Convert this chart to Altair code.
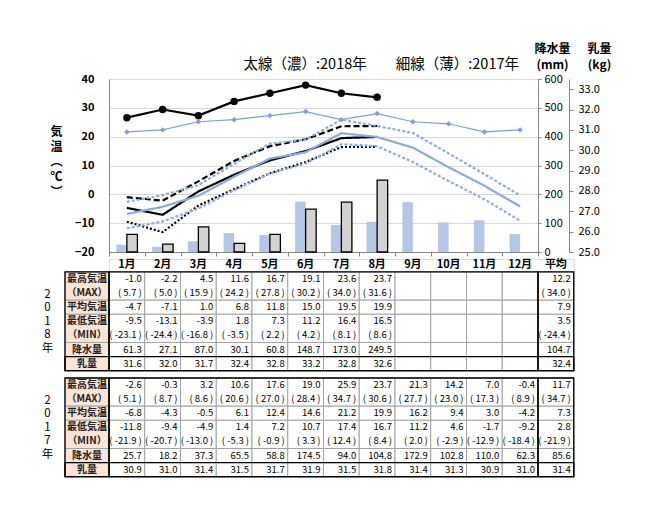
import altair as alt
import pandas as pd

FONT = "Noto Sans CJK JP"

# ---------------- data ----------------
MONTHS = ["1月", "2月", "3月", "4月", "5月", "6月", "7月", "8月", "9月", "10月", "11月", "12月"]
AVG_LABEL = "平均"
ROW_LABELS = ["最高気温", "（MAX）", "平均気温", "最低気温", "（MIN）", "降水量", "乳量"]

MAX18 = [-1.0, -2.2, 4.5, 11.6, 16.7, 19.1, 23.6, 23.7]
MAX18_ABS = [5.7, 5.0, 15.9, 24.2, 27.8, 30.2, 34.0, 31.6]
MEAN18 = [-4.7, -7.1, 1.0, 6.8, 11.8, 15.0, 19.5, 19.9]
MIN18 = [-9.5, -13.1, -3.9, 1.8, 7.3, 11.2, 16.4, 16.5]
MIN18_ABS = [-23.1, -24.4, -16.8, -3.5, 2.2, 4.2, 8.1, 8.6]
PREC18 = [61.3, 27.1, 87.0, 30.1, 60.8, 148.7, 173.0, 249.5]
MILK18 = [31.6, 32.0, 31.7, 32.4, 32.8, 33.2, 32.8, 32.6]
AVG18 = [12.2, 34.0, 7.9, 3.5, -24.4, 104.7, 32.4]

MAX17 = [-2.6, -0.3, 3.2, 10.6, 17.6, 19.0, 25.9, 23.7, 21.3, 14.2, 7.0, -0.4]
MAX17_ABS = [5.1, 8.7, 8.6, 20.6, 27.0, 28.4, 34.7, 30.6, 27.7, 23.0, 17.3, 8.9]
MEAN17 = [-6.8, -4.3, -0.5, 6.1, 12.4, 14.6, 21.2, 19.9, 16.2, 9.4, 3.0, -4.2]
MIN17 = [-11.8, -9.4, -4.9, 1.4, 7.2, 10.7, 17.4, 16.7, 11.2, 4.6, -1.7, -9.2]
MIN17_ABS = [-21.9, -20.7, -13.0, -5.3, -0.9, 3.3, 12.4, 8.4, 2.0, -2.9, -12.9, -18.4]
PREC17 = [25.7, 18.2, 37.3, 65.5, 58.8, 174.5, 94.0, 104.8, 172.9, 102.8, 110.0, 62.3]
MILK17 = [30.9, 31.0, 31.4, 31.5, 31.7, 31.9, 31.5, 31.8, 31.4, 31.3, 30.9, 31.0]
AVG17 = [11.7, 34.7, 7.3, 2.8, -21.9, 85.6, 31.4]

# ---------------- layout / style ----------------
STEP = 35.75
RH = 14.1
HDR = 0.92
LW = 44 / STEP
PEACH = "#fce4d6"
BLUE_LINE = "#8eaae2"
BLUE_MILK = "#7f9de0"
BLUE_BAR = "#b4c7e7"
GRID = "#d9d9d9"
AXIS_C = "#868686"

# ---------------- main chart ----------------
series_dom = ["max18", "mean18", "min18", "max17", "mean17", "min17"]
series_vals = [MAX18, MEAN18, MIN18, MAX17, MEAN17, MIN17]
temp_df = pd.DataFrame(
    [{"month": m, "series": s, "temp": v}
     for s, vals in zip(series_dom, series_vals) for m, v in zip(MONTHS, vals)]
)
bar_df = pd.DataFrame(
    [{"month": m, "year": y, "prec": v}
     for y, vals in [("2017", PREC17), ("2018", PREC18)] for m, v in zip(MONTHS, vals)]
)
milk_df = pd.DataFrame(
    [{"month": m, "year": y, "milk": v}
     for y, vals in [("2017", MILK17), ("2018", MILK18)] for m, v in zip(MONTHS, vals)]
)

xenc = alt.X(
    "month:N",
    sort=MONTHS,
    scale=alt.Scale(type="band", domain=MONTHS, paddingInner=0, paddingOuter=0),
    axis=alt.Axis(labels=False, title=None, grid=False, tickBand="extent", tickSize=4,
                  domainColor=AXIS_C, tickColor=AXIS_C),
)

bars = alt.Chart(bar_df).mark_bar(stroke="black").encode(
    x=xenc,
    xOffset=alt.XOffset("year:N", scale=alt.Scale(domain=["2017", "2018"], paddingOuter=0.7, paddingInner=0)),
    y=alt.Y("prec:Q", scale=alt.Scale(domain=[0, 600], nice=False, zero=True),
            axis=alt.Axis(orient="right", values=list(range(0, 601, 100)), grid=False,
                          domainColor=AXIS_C, tickColor=AXIS_C, tickSize=3, labelPadding=3,
                          labelFontSize=11, title=["降水量", "(mm)"], titleAngle=0,
                          titleAlign="center", titleBaseline="top", titleX=14, titleY=-36,
                          titleFontSize=12, titleFontWeight="bold", titleLineHeight=16)),
    fill=alt.Fill("year:N", scale=alt.Scale(domain=["2017", "2018"], range=[BLUE_BAR, "#d2d2d2"]), legend=None),
    strokeWidth=alt.StrokeWidth("year:N", scale=alt.Scale(domain=["2017", "2018"], range=[0, 1.3]), legend=None),
)

temps = alt.Chart(temp_df).mark_line().encode(
    x=xenc,
    y=alt.Y("temp:Q", scale=alt.Scale(domain=[-20, 40], nice=False, zero=False),
            axis=alt.Axis(orient="left", values=list(range(-20, 41, 10)), grid=True, gridColor=GRID,
                          domainColor=AXIS_C, ticks=False, labelPadding=15, labelFontSize=11,
                          labelFontWeight="bold",
                          title=["気", "温", "︵", "℃", "︶"], titleAngle=0, titleAlign="center",
                          titleBaseline="middle", titleX=-53, titleY=52, titleFontSize=12,
                          titleFontWeight="bold", titleLineHeight=15)),
    color=alt.Color("series:N", scale=alt.Scale(domain=series_dom, range=["#000000"] * 3 + [BLUE_LINE] * 3), legend=None),
    strokeDash=alt.StrokeDash("series:N", scale=alt.Scale(domain=series_dom,
                              range=[[6, 3], [1, 0], [2, 2], [3, 2], [1, 0], [3, 2]]), legend=None),
    strokeWidth=alt.StrokeWidth("series:N", scale=alt.Scale(domain=series_dom,
                                range=[2.2, 2.2, 2.2, 1.0, 1.0, 1.0]), legend=None),
    detail="series:N",
)

milk_y = alt.Y("milk:Q", scale=alt.Scale(domain=[25, 33.5], nice=False, zero=False),
               axis=alt.Axis(orient="right", offset=31, values=list(range(25, 34)), format=".1f",
                             grid=False, domainColor=AXIS_C, tickColor=AXIS_C, tickSize=4,
                             labelPadding=5, labelFontSize=11, title=["乳量", "(kg)"], titleAngle=0,
                             titleAlign="center", titleBaseline="top", titleX=30, titleY=-36,
                             titleFontSize=12, titleFontWeight="bold", titleLineHeight=16))
milk_color = alt.Color("year:N", scale=alt.Scale(domain=["2018", "2017"], range=["#000000", BLUE_MILK]), legend=None)
milk_line = alt.Chart(milk_df).mark_line().encode(
    x=xenc, y=milk_y, color=milk_color,
    strokeWidth=alt.StrokeWidth("year:N", scale=alt.Scale(domain=["2018", "2017"], range=[2.2, 1.2]), legend=None),
)
milk_pts = alt.Chart(milk_df).mark_point(filled=True, opacity=1).encode(
    x=xenc, y=milk_y, color=milk_color,
    shape=alt.Shape("year:N", scale=alt.Scale(domain=["2018", "2017"], range=["circle", "diamond"]), legend=None),
    size=alt.Size("year:N", scale=alt.Scale(domain=["2018", "2017"], range=[55, 30]), legend=None),
)
milk = alt.layer(milk_line, milk_pts)

main = alt.layer(bars, temps, milk).resolve_scale(
    y="independent", color="independent", strokeWidth="independent", strokeDash="independent"
).properties(
    width=12 * STEP, height=173,
    title=alt.TitleParams("太線（濃）:2018年　　細線（薄）:2017年", anchor="end", frame="group",
                          dx=-19, offset=-30, fontSize=14.5, fontWeight="normal", font=FONT,
                          color="#000"),
)

# ---------------- tables ----------------
GROUPS = [(0, 2), (2, 3), (3, 5), (5, 6), (6, 7)]
PAREN_ROWS = {1, 4}
NCOL = len(MONTHS) + 1
NROW = len(ROW_LABELS)


def fmt(v, r):
    s = f"{v:.1f}"
    return f"( {s} )" if r in PAREN_ROWS else s


def make_table(rows, avgs, year_title, header):
    ymin = -HDR if header else 0
    cells = []
    for c in range(NCOL):
        for g0, g1 in GROUPS:
            cells.append(dict(x0=c, x1=c + 1, y0=g0, y1=g1, fill="#ffffff"))
    for g0, g1 in GROUPS:
        cells.append(dict(x0=-LW, x1=0, y0=g0, y1=g1, fill=PEACH))
    cell_df = pd.DataFrame(cells)

    vals = []
    for r, row in enumerate(rows):
        for c, v in enumerate(row):
            vals.append(dict(xt=c + 1, yt=r + 0.5, t=fmt(v, r)))
        vals.append(dict(xt=NCOL, yt=r + 0.5, t=fmt(avgs[r], r)))
    val_df = pd.DataFrame(vals)

    lab_df = pd.DataFrame([dict(xt=-LW / 2, yt=r + 0.5, t=l) for r, l in enumerate(ROW_LABELS)])
    out_df = pd.DataFrame([
        dict(x0=-LW, x1=0, y0=0, y1=NROW),
        dict(x0=0, x1=NCOL - 1, y0=0, y1=NROW),
        dict(x0=NCOL - 1, x1=NCOL, y0=0, y1=NROW),
        dict(x0=-LW, x1=NCOL, y0=NROW - 1, y1=NROW),
    ])

    xs = alt.Scale(domain=[0, NCOL], nice=False, zero=False)
    ys = alt.Scale(domain=[ymin, NROW], nice=False, zero=False, reverse=True)
    n = len(year_title)
    lh = 13.5
    first_y = (NROW / 2 - ymin) * RH - (n - 1) / 2 * lh
    yax = alt.Axis(labels=False, ticks=False, domain=False, grid=False, title=list(year_title),
                   titleAngle=0, titleAlign="center", titleBaseline="middle", titleX=-62,
                   titleY=first_y, titleFontSize=11.5, titleFontWeight="normal", titleLineHeight=lh)

    rect = alt.Chart(cell_df).mark_rect(stroke="#a3a3a3", strokeWidth=1).encode(
        x=alt.X("x0:Q", scale=xs, axis=None), x2="x1",
        y=alt.Y("y0:Q", scale=ys, axis=yax), y2="y1",
        fill=alt.Fill("fill:N", scale=None),
    )
    outline = alt.Chart(out_df).mark_rect(filled=False, stroke="#000000", strokeWidth=1.3).encode(
        x=alt.X("x0:Q", scale=xs, axis=None), x2="x1",
        y=alt.Y("y0:Q", scale=ys, axis=yax), y2="y1",
    )
    vtext = alt.Chart(val_df).mark_text(align="right", baseline="middle", dx=-3, fontSize=9.5,
                                        font=FONT, color="#000").encode(
        x=alt.X("xt:Q", scale=xs, axis=None), y=alt.Y("yt:Q", scale=ys, axis=yax), text="t:N")
    ltext = alt.Chart(lab_df).mark_text(align="center", baseline="middle", fontSize=10, fontWeight="bold",
                                        font=FONT, color="#222").encode(
        x=alt.X("xt:Q", scale=xs, axis=None), y=alt.Y("yt:Q", scale=ys, axis=yax), text="t:N")
    layers = [rect, outline, vtext, ltext]
    if header:
        hdr_df = pd.DataFrame([dict(xt=c + 0.5, yt=-HDR / 2, t=l) for c, l in enumerate(MONTHS + [AVG_LABEL])])
        htext = alt.Chart(hdr_df).mark_text(align="center", baseline="middle", fontSize=11, fontWeight="bold",
                                            font=FONT, color="#000").encode(
            x=alt.X("xt:Q", scale=xs, axis=None), y=alt.Y("yt:Q", scale=ys, axis=yax), text="t:N")
        layers.append(htext)
    return alt.layer(*layers).properties(width=NCOL * STEP, height=(NROW - ymin) * RH)


t18 = make_table([MAX18, MAX18_ABS, MEAN18, MIN18, MIN18_ABS, PREC18, MILK18], AVG18, "2018年", True)
t17 = make_table([MAX17, MAX17_ABS, MEAN17, MIN17, MIN17_ABS, PREC17, MILK17], AVG17, "2017年", False)

chart = alt.vconcat(main, t18, t17, spacing=7, bounds="flush").properties(
    padding={"left": 32, "top": 33, "right": 10, "bottom": 10}
).configure_view(stroke=None).configure_axis(
    labelFont=FONT, titleFont=FONT, labelColor="#000", titleColor="#000"
).configure(font=FONT)

chart.save("out.html", embed_options={"renderer": "svg", "actions": False})
